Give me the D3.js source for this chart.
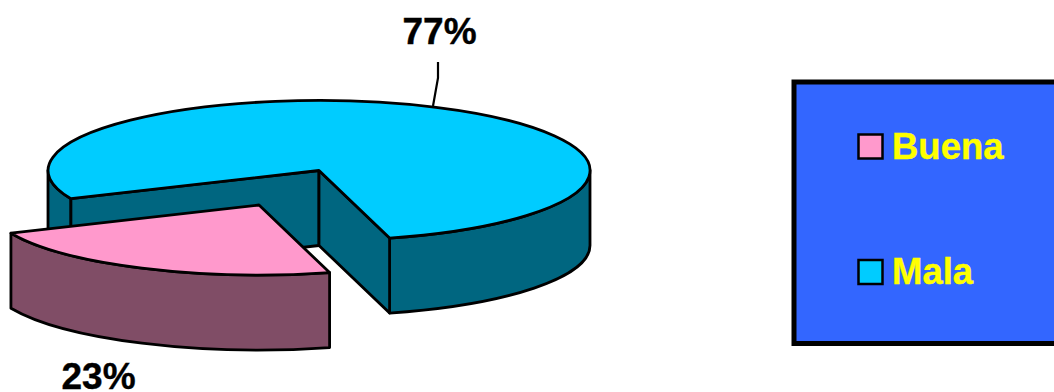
<!DOCTYPE html>
<html><head><meta charset="utf-8">
<script src="https://cdn.jsdelivr.net/npm/d3@7"></script>
<style>html,body{margin:0;padding:0;background:#fff;overflow:hidden}svg{display:block}</style>
</head><body><svg id="c" width="1054" height="392"></svg>
<script>
const categories = ["Buena", "Mala"];
const values = [22.6, 77.4];
const pctLabels = ["23%", "77%"];
const topColors = ["#FF99CC", "#00CCFF"];
const sideColors = ["#804D66", "#006680"];

const W = 1054, H = 392;
const cx = 319, cy = 170.5, rx = 271, ry = 70, depth = 75;
const explode = [[-60, 34.5], [0, 0]];
const deg = Math.PI / 180;
const sw = 2.8;

const svg = d3.select("#c");
const font = "'Liberation Sans', Arial, sans-serif";

const arcs = d3.pie().sort(null).value(d => d)
  .startAngle(164.9 * deg).endAngle((164.9 + 360) * deg)(values);

const pt = (a, i, dz = 0) => [
  cx + explode[i][0] + rx * Math.sin(a),
  cy + explode[i][1] + dz - ry * Math.cos(a)
];
const apex = (i, dz = 0) => [cx + explode[i][0], cy + explode[i][1] + dz];

function ell(p, a0, a1, i, dz) {
  const n = 1 + Math.floor((a1 - a0) / Math.PI);
  for (let k = 1; k <= n; k++) {
    const a = a0 + (a1 - a0) * k / n;
    const q = pt(a, i, dz);
    p.push(`A${rx},${ry} 0 0 1 ${q[0]},${q[1]}`);
  }
}
function ellRev(p, a0, a1, i, dz) {
  const n = 1 + Math.floor((a1 - a0) / Math.PI);
  for (let k = n - 1; k >= 0; k--) {
    const a = a0 + (a1 - a0) * k / n;
    const q = pt(a, i, dz);
    p.push(`A${rx},${ry} 0 0 0 ${q[0]},${q[1]}`);
  }
}
function outerWall(a0, a1, i) {
  const s = pt(a0, i), e = pt(a1, i, depth);
  const p = [`M${s[0]},${s[1]}`];
  ell(p, a0, a1, i, 0);
  p.push(`L${e[0]},${e[1]}`);
  ellRev(p, a0, a1, i, depth);
  p.push("Z");
  return p.join("");
}
function radialWall(a, i) {
  const c0 = apex(i), c1 = apex(i, depth), r0 = pt(a, i), r1 = pt(a, i, depth);
  return `M${c0}L${r0}L${r1}L${c1}Z`;
}
function topFace(a0, a1, i) {
  const c = apex(i), s = pt(a0, i);
  const p = [`M${c}L${s}`];
  ell(p, a0, a1, i, 0);
  p.push("Z");
  return p.join("");
}

const g = svg.append("g").attr("stroke", "#000").attr("stroke-width", sw).attr("stroke-linejoin", "round");

const mala = arcs[1], buena = arcs[0];
const m = 1;
g.append("path").attr("d", outerWall(mala.startAngle, 270 * deg, m)).attr("fill", sideColors[m]);
g.append("path").attr("d", radialWall(mala.startAngle, m)).attr("fill", sideColors[m]);
g.append("path").attr("d", outerWall(450 * deg, mala.endAngle, m)).attr("fill", sideColors[m]);
g.append("path").attr("d", radialWall(mala.endAngle, m)).attr("fill", sideColors[m]);
g.append("path").attr("d", topFace(mala.startAngle, mala.endAngle, m)).attr("fill", topColors[m]);

const b = 0;
g.append("path").attr("d", outerWall(buena.startAngle, buena.endAngle, b)).attr("fill", sideColors[b]);
g.append("path").attr("d", topFace(buena.startAngle, buena.endAngle, b)).attr("fill", topColors[b]);

svg.append("path")
  .attr("d", d3.line()([[438, 62], [438, 78], [433, 106]]))
  .attr("fill", "none").attr("stroke", "#000").attr("stroke-width", 2.2);

const labelPos = [[61.5, 389], [402.5, 44]];
svg.selectAll("text.pct").data(pctLabels).join("text")
  .attr("class", "pct")
  .attr("x", (d, i) => labelPos[i][0]).attr("y", (d, i) => labelPos[i][1])
  .attr("font-family", font).attr("font-weight", "bold").attr("font-size", 37)
  .attr("fill", "#000").attr("stroke", "#000").attr("stroke-width", 0.4).text(d => d);

svg.append("rect").attr("x", 794).attr("y", 82).attr("width", 300).attr("height", 261.5)
  .attr("fill", "#3366FF").attr("stroke", "#000").attr("stroke-width", 5);
const legendY = d3.scalePoint().domain(categories).range([146.5, 272]);
categories.forEach((c, i) => {
  svg.append("rect").attr("x", 858.5).attr("y", legendY(c) - 12).attr("width", 24).attr("height", 24)
    .attr("fill", topColors[i]).attr("stroke", "#000").attr("stroke-width", 2.5);
  svg.append("text").attr("x", 892).attr("y", legendY(c) + 12)
    .attr("font-family", font).attr("font-weight", "bold").attr("font-size", 36.5)
    .attr("fill", "#FFFF00").attr("stroke", "#FFFF00").attr("stroke-width", 0.4).text(c);
});
</script></body></html>
